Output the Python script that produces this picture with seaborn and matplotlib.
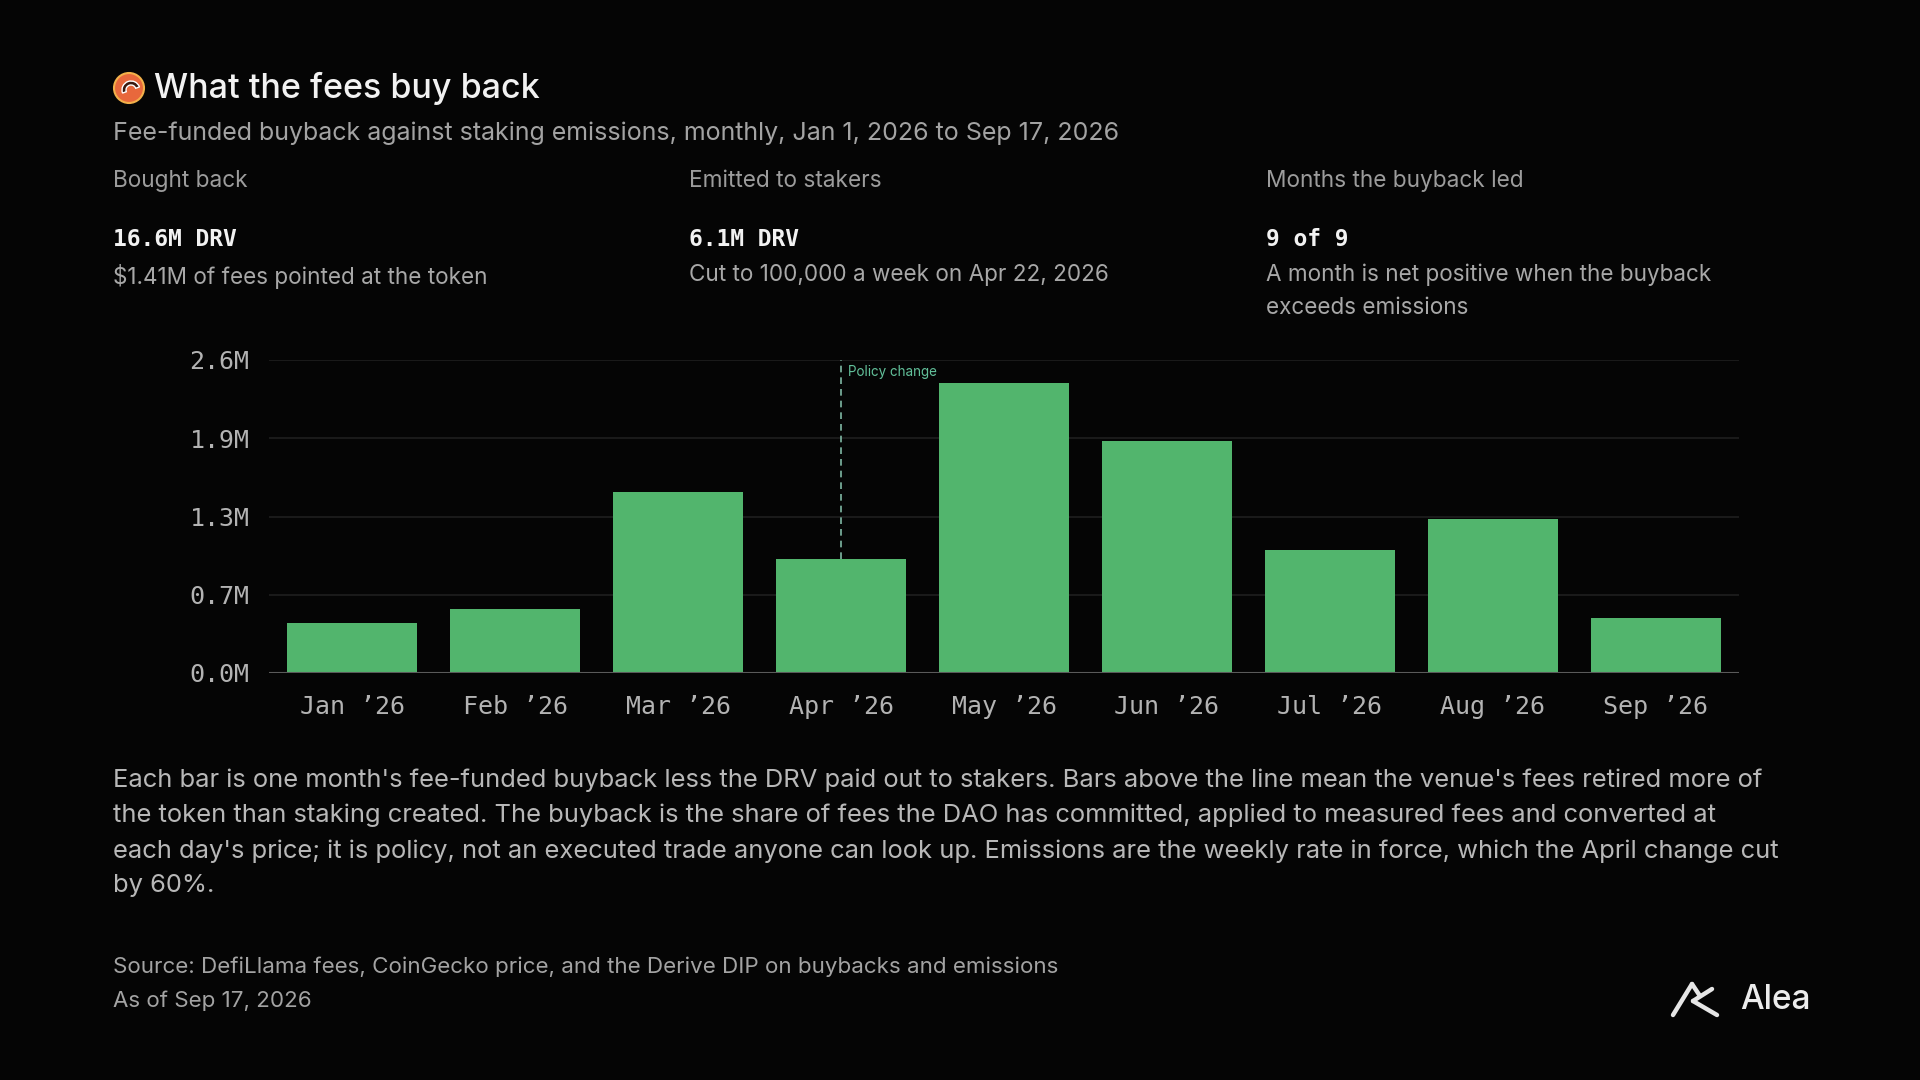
import matplotlib
matplotlib.use("Agg")
import matplotlib.pyplot as plt
import seaborn as sns
import pandas as pd
from matplotlib.patches import Circle, Wedge
from matplotlib.lines import Line2D

# Data (net monthly buyback less emissions, DRV)
months = ["Jan ’26", "Feb ’26", "Mar ’26", "Apr ’26", "May ’26",
          "Jun ’26", "Jul ’26", "Aug ’26", "Sep ’26"]
net_drv = [0.416e6, 0.528e6, 1.50e6, 0.944e6, 2.41e6,
           1.93e6, 1.025e6, 1.28e6, 0.457e6]
y_ticks = [0, 0.65e6, 1.3e6, 1.95e6, 2.6e6]
y_tick_labels = ["0.0M", "0.7M", "1.3M", "1.9M", "2.6M"]
policy_month = "Apr ’26"

kpi_labels = ["Bought back", "Emitted to stakers", "Months the buyback led"]
kpi_values = ["16.6M DRV", "6.1M DRV", "9 of 9"]
kpi_notes = ["$1.41M of fees pointed at the token",
             "Cut to 100,000 a week on Apr 22, 2026",
             "A month is net positive when the buyback\nexceeds emissions"]

df = pd.DataFrame({"month": months, "net": net_drv})

BG = "#050505"
GREEN = "#52b56d"

sns.set_theme(style="dark")
plt.rcParams["font.family"] = ["Inter", "DejaVu Sans"]

fig = plt.figure(figsize=(19.2, 10.8), dpi=100)
fig.patch.set_facecolor(BG)


def fx(px):
    return px / 1920


def fy(py):
    return 1 - py / 1080


# header icon
icon = Circle((129 / 100, (1080 - 88) / 100), 0.15, transform=fig.dpi_scale_trans,
              facecolor="#e8683c", edgecolor="#f3b04a", linewidth=1.5)
fig.patches.append(icon)
fig.patches.append(Wedge((131 / 100, (1080 - 90) / 100), 0.09, 20, 200,
                         transform=fig.dpi_scale_trans, facecolor="#3a1a10",
                         width=0.04))

fig.text(fx(154), fy(88), "What the fees buy back", color="#f2f2f2",
         fontsize=24.5, va="center", ha="left", fontweight="medium")
fig.text(fx(113), fy(133),
         "Fee-funded buyback against staking emissions, monthly, Jan 1, 2026 to Sep 17, 2026",
         color="#a3a3a3", fontsize=18, va="center", ha="left")

kpi_x = [113, 689, 1266]
for x, lab, val, note in zip(kpi_x, kpi_labels, kpi_values, kpi_notes):
    fig.text(fx(x), fy(181), lab, color="#9c9c9c", fontsize=16.3,
             va="center", ha="left")
    fig.text(fx(x), fy(240), val, color="#f2f2f2", fontsize=16.5,
             va="center", ha="left", family="DejaVu Sans Mono", fontweight="bold")
    fig.text(fx(x), fy(264), note, color="#a8a8a8", fontsize=16.2,
             va="top", ha="left", linespacing=1.6)

# chart
ax = fig.add_axes([269 / 1920, 1 - 673 / 1080, 1470 / 1920, 313 / 1080])
ax.set_facecolor(BG)
sns.barplot(data=df, x="month", y="net", color=GREEN, saturation=1,
            width=0.8, linewidth=0, ax=ax, zorder=2)
ax.set_xlim(-0.51, len(months) - 0.49)
ax.set_ylim(0, y_ticks[-1])
ax.set_yticks(y_ticks)
ax.set_yticklabels(y_tick_labels)
ax.set_xlabel("")
ax.set_ylabel("")
for s in ax.spines.values():
    s.set_visible(False)
ax.grid(False)
for yt in y_ticks[1:]:
    ax.axhline(yt, color="#1f1f1f", linewidth=1.2, zorder=0)
ax.axhline(0, color="#5a5a5a", linewidth=1.5, zorder=3)
ax.tick_params(axis="both", length=0, colors="#b3b3b3", labelsize=18)
ax.tick_params(axis="y", pad=14)
ax.tick_params(axis="x", pad=16)
for t in ax.get_xticklabels() + ax.get_yticklabels():
    t.set_family("DejaVu Sans Mono")

pi = months.index(policy_month)
ax.vlines(pi, net_drv[pi], y_ticks[-1], colors="#7fb8a4", linestyles=(0, (4, 3)),
          linewidth=1.2, zorder=4)
ax.text(pi + 0.04, y_ticks[-1] * 0.962, "Policy change", color="#62c09a",
        fontsize=9.7, va="center", ha="left")

# notes
body = ("Each bar is one month's fee-funded buyback less the DRV paid out to stakers. Bars above the line mean the venue's fees retired more of\n"
        "the token than staking created. The buyback is the share of fees the DAO has committed, applied to measured fees and converted at\n"
        "each day's price; it is policy, not an executed trade anyone can look up. Emissions are the weekly rate in force, which the April change cut\n"
        "by 60%.")
fig.text(fx(113), fy(768), body, color="#b8b8b8", fontsize=18.4,
         va="top", ha="left", linespacing=1.65)
fig.text(fx(113), fy(967),
         "Source: DefiLlama fees, CoinGecko price, and the Derive DIP on buybacks and emissions",
         color="#a3a3a3", fontsize=16.1, va="center", ha="left")
fig.text(fx(113), fy(1001), "As of Sep 17, 2026", color="#a3a3a3",
         fontsize=16.1, va="center", ha="left")

# Alea mark
mark = [((1673, 1015), (1692, 984)), ((1692, 984), (1700, 996)),
        ((1693, 1001), (1712, 989)), ((1693, 1001), (1717, 1015))]
for (x0, y0), (x1, y1) in mark:
    fig.add_artist(Line2D([fx(x0), fx(x1)], [fy(y0), fy(y1)], color="#e6e6e6",
                          linewidth=3.2, transform=fig.transFigure,
                          solid_capstyle="round"))
fig.text(fx(1740), fy(1000), "Alea", color="#ececec", fontsize=24,
         va="center", ha="left", fontweight="medium")

fig.savefig("out.png", dpi=100, facecolor=BG)
